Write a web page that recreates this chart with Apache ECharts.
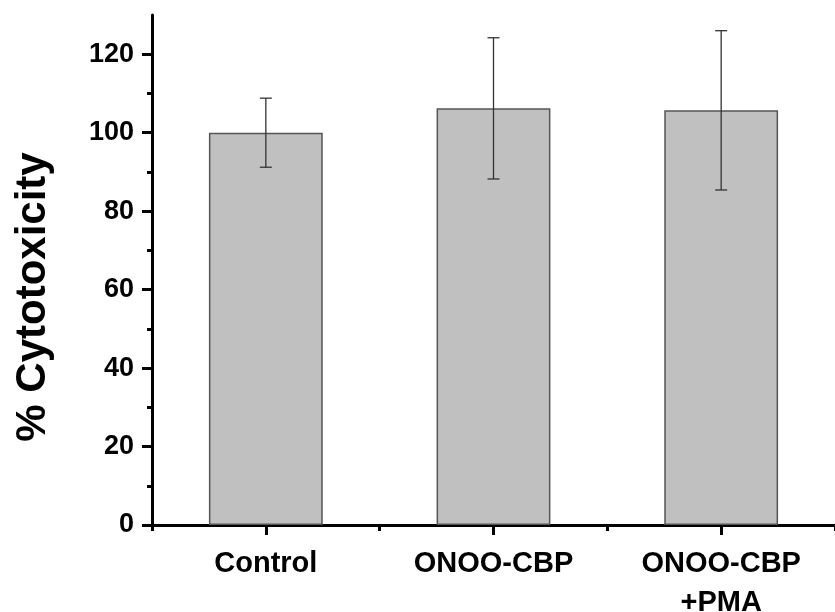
<!DOCTYPE html>
<html>
<head>
<meta charset="utf-8">
<script src="https://cdn.jsdelivr.net/npm/echarts@6/dist/echarts.min.js"></script>
<style>html,body{margin:0;padding:0;background:#fff}#c{width:835px;height:612px}</style>
</head>
<body>
<div id="c"></div>
<script>
var categories = ['Control', 'ONOO-CBP', 'ONOO-CBP\n+PMA'];
var means = [100, 106.2, 105.7];
var errors = [8.8, 18.0, 20.3];
var yTicks = [0, 20, 40, 60, 80, 100, 120];
var yMinorTicks = [10, 30, 50, 70, 90, 110];
var yTitle = '% Cytotoxicity';

var chart = echarts.init(document.getElementById('c'), null, {renderer: 'canvas'});
var font = '"Liberation Sans", Arial, sans-serif';
var errData = means.map(function (m, i) { return [i, m - errors[i], m + errors[i]]; });

chart.setOption({
  animation: false,
  backgroundColor: '#fff',
  grid: {left: 152, right: 0, top: 15, bottom: 87, containLabel: false, outerBoundsMode: 'none'},
  xAxis: [{
    type: 'category', data: categories, position: 'bottom',
    axisLine: {show: true, lineStyle: {color: '#000', width: 3}},
    axisTick: {show: true, alignWithLabel: true, length: 10, lineStyle: {color: '#000', width: 3}},
    axisLabel: {color: '#000', fontFamily: font, fontWeight: 'bold', fontSize: 29, lineHeight: 39, margin: 19},
    splitLine: {show: false}
  }, {
    type: 'category', data: categories, position: 'bottom',
    axisLine: {show: false},
    axisTick: {show: true, length: 6, lineStyle: {color: '#000', width: 3}},
    axisLabel: {show: false},
    splitLine: {show: false}
  }],
  yAxis: [{
    type: 'value', min: 0, max: 130, position: 'left',
    axisLine: {show: true, lineStyle: {color: '#000', width: 3}},
    axisTick: {show: true, length: 10, customValues: yTicks, lineStyle: {color: '#000', width: 3}},
    axisLabel: {customValues: yTicks, color: '#000', fontFamily: font, fontWeight: 'bold', fontSize: 27, margin: 18},
    splitLine: {show: false}
  }, {
    type: 'value', min: 0, max: 130, position: 'left',
    axisLine: {show: false},
    axisTick: {show: true, length: 5, customValues: yMinorTicks, lineStyle: {color: '#000', width: 3}},
    axisLabel: {show: false},
    splitLine: {show: false}
  }],
  graphic: [{
    type: 'text',
    x: 33, y: 297, rotation: Math.PI / 2,
    style: {text: yTitle, fill: '#000', font: 'bold 42px ' + font, align: 'center', verticalAlign: 'middle'}
  }],
  series: [{
    type: 'bar', data: means, barWidth: '50%', xAxisIndex: 0, yAxisIndex: 0,
    itemStyle: {color: '#c0c0c0', borderColor: '#555', borderWidth: 1.5},
    z: 2
  }, {
    type: 'custom', data: errData, xAxisIndex: 0, yAxisIndex: 0, z: 3,
    renderItem: function (params, api) {
      var x = api.value(0);
      var lo = api.coord([x, api.value(1)]);
      var hi = api.coord([x, api.value(2)]);
      var cw = 6;
      var st = {stroke: '#333', lineWidth: 1.3};
      return {type: 'group', children: [
        {type: 'line', shape: {x1: hi[0], y1: hi[1], x2: lo[0], y2: lo[1]}, style: st},
        {type: 'line', shape: {x1: hi[0] - cw, y1: hi[1], x2: hi[0] + cw, y2: hi[1]}, style: st},
        {type: 'line', shape: {x1: lo[0] - cw, y1: lo[1], x2: lo[0] + cw, y2: lo[1]}, style: st}
      ]};
    }
  }]
});
</script>
</body>
</html>
